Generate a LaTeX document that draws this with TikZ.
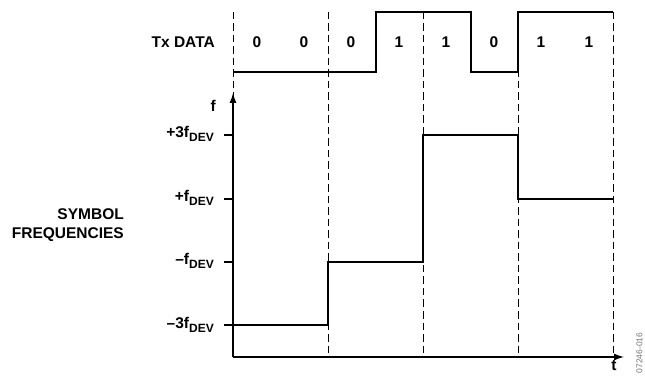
\documentclass[tikz,border=0pt]{standalone}
\usepackage{fontspec}
\setmainfont{Liberation Sans}
\usetikzlibrary{arrows.meta}
\newcommand\fdv{f\raisebox{-4pt}{\fontsize{12}{12}\selectfont DEV}}
\begin{document}
\begin{tikzpicture}[x=1pt,y=-1pt,
  font=\fontsize{15.5}{18}\selectfont\bfseries,
  sig/.style={line width=2pt,line join=miter},
  ax/.style={line width=1.3pt},
  gridline/.style={line width=0.9pt,dash pattern=on 7.5pt off 4pt},
  lab/.style={inner sep=0pt,anchor=base east},
  bit/.style={inner sep=0pt,anchor=base}]
\useasboundingbox (0,0) rectangle (645,387);
% dashed symbol boundaries
\foreach \x in {233,328,423,518,613} \draw[gridline] (\x,12) -- (\x,357);
% Tx data waveform
\draw[sig] (233,72) -- (375.5,72) -- (375.5,12) -- (470.5,12) -- (470.5,72) -- (518,72) -- (518,12) -- (613,12);
\node[lab] (tx) at (215,48) {Tx DATA};
\foreach \x/\b [count=\i] in {257/0,304/0,351/0,399/1,446/1,494/0,541/1,589/1}
  \node[bit] (b\i) at (\x,48) {\b};
% axes
\coordinate (o) at (233,357);
\coordinate (ftip) at (233,93);
\coordinate (ttip) at (624,357);
\draw[ax,-{Latex[length=10pt,width=7pt]}] (o) -- (ftip);
\draw[ax,-{Latex[length=10pt,width=7pt]}] (o) -- (ttip);
\node[lab] (f) at (216,112) {f};
\node[bit] (t) at (614,370) {t};
% ticks and levels
\foreach \y/\l in {135/+3\fdv,199/+\fdv,262/–\fdv,325/–3\fdv}{
  \draw[ax] (224,\y) -- (233,\y);
  \node[lab] at (214,\y+3) {\l};
}
% frequency waveform
\draw[sig] (233,325) -- (328,325) -- (328,262) -- (423,262) -- (423,135) -- (518,135) -- (518,199) -- (613,199);
\node[lab] (s1) at (124,219.5) {SYMBOL};
\node[lab] (s2) at (124,238.5) {FREQUENCIES};
\node[font=\fontsize{8.5}{8.5}\selectfont,text=black!55,rotate=90,inner sep=0pt] (id) at (639.5,353) {07246-016};
\end{tikzpicture}
\end{document}
